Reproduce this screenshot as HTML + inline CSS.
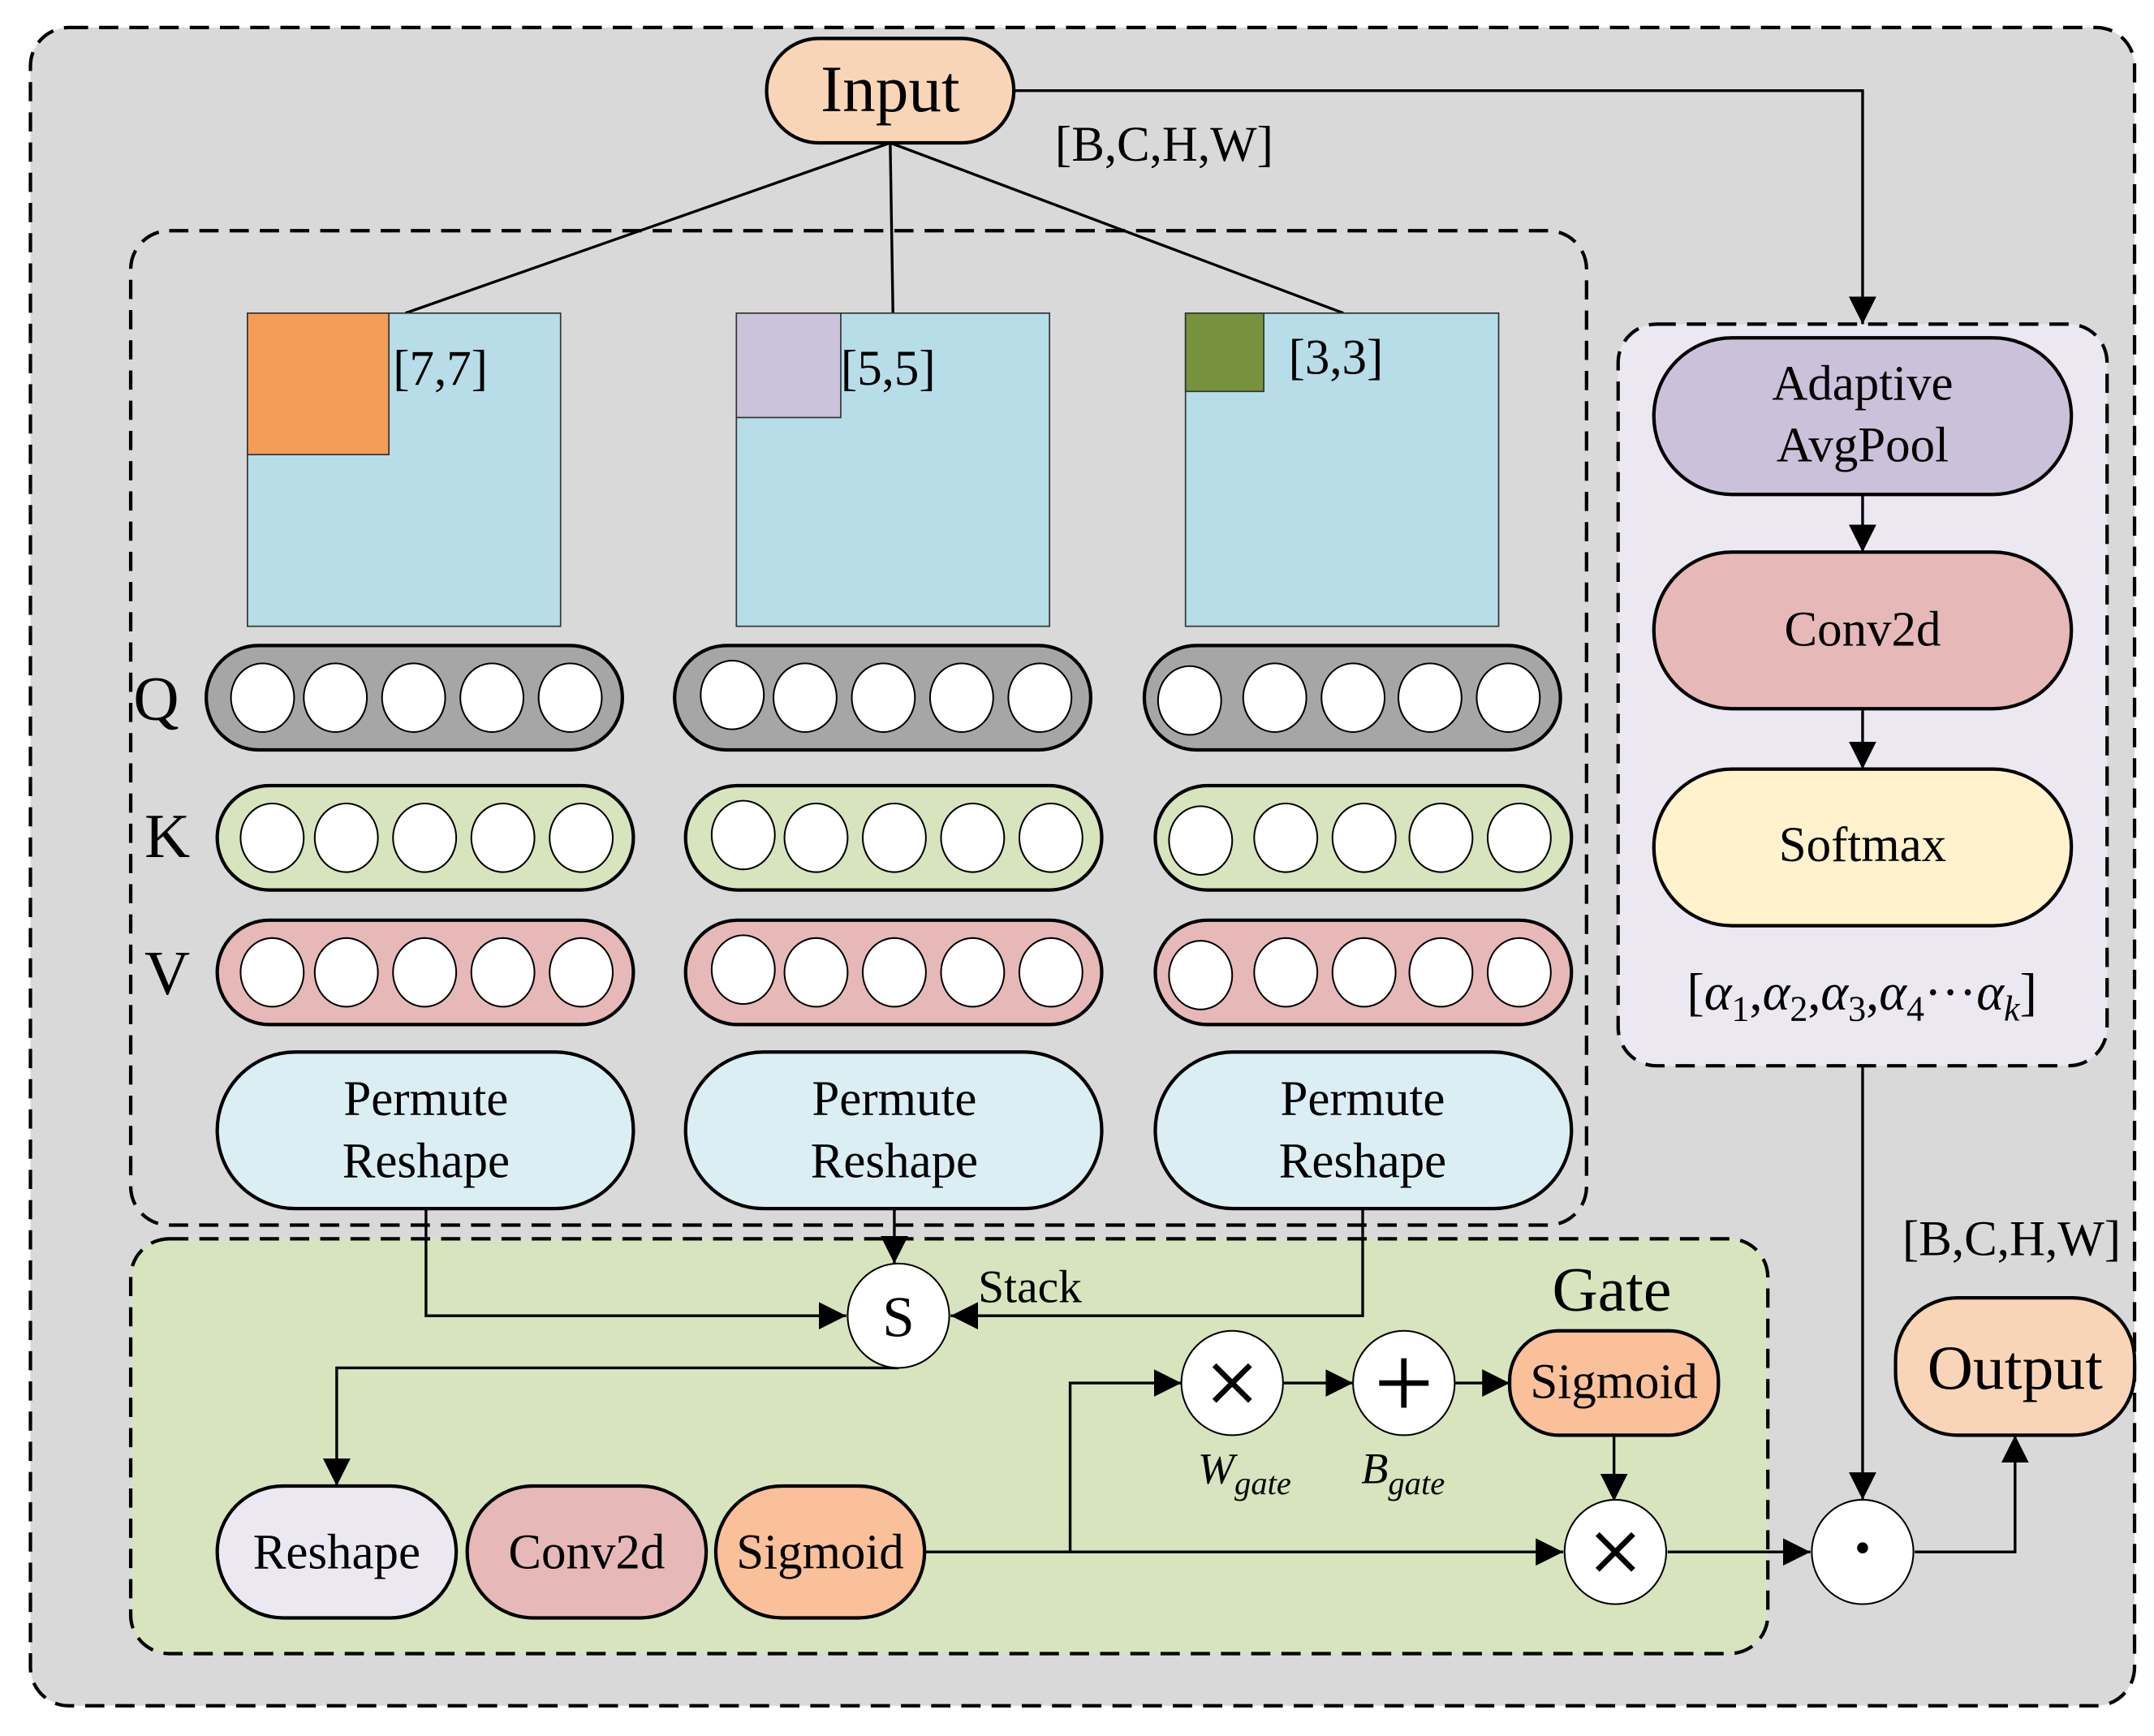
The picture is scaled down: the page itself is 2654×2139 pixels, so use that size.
<!DOCTYPE html>
<html><head><meta charset="utf-8"><style>html,body{margin:0;padding:0;background:#fff}svg{display:block}</style></head><body>
<svg xmlns="http://www.w3.org/2000/svg" width="2654" height="2139" viewBox="0 0 1568 1264" font-family="'Liberation Serif',serif">
<defs><marker id="b" viewBox="0 0 10 10" refX="10" refY="5" markerWidth="20" markerHeight="20" markerUnits="userSpaceOnUse" orient="auto"><path d="M0,0L10,5L0,10z" fill="#000"/></marker></defs>
<rect x="0" y="0" width="1568" height="1264" fill="#fff"/>
<rect x="22" y="20" width="1532" height="1222" rx="28" fill="#d9d9d9" stroke="#000" stroke-width="2.5" stroke-dasharray="14,8"/>
<rect x="95" y="168" width="1060" height="724" rx="28" fill="none" stroke="#000" stroke-width="2.5" stroke-dasharray="14,8"/>
<rect x="95" y="902" width="1192" height="302" rx="28" fill="#d7e4bd" stroke="#000" stroke-width="2.5" stroke-dasharray="14,8"/>
<rect x="1178" y="236" width="356" height="540" rx="28" fill="#ebe8f1" stroke="#000" stroke-width="2.5" stroke-dasharray="14,8"/>
<g stroke="#000" stroke-width="2" fill="none">
<line x1="648" y1="104" x2="295" y2="228"/><line x1="648" y1="104" x2="650" y2="228"/><line x1="648" y1="104" x2="978" y2="228"/>
<polyline points="738,66 1356,66 1356,236" marker-end="url(#b)"/>
<line x1="1356" y1="360" x2="1356" y2="402" marker-end="url(#b)"/>
<line x1="1356" y1="516" x2="1356" y2="560" marker-end="url(#b)"/>
<line x1="1356" y1="776" x2="1356" y2="1092" marker-end="url(#b)"/>
<polyline points="1394,1130 1467,1130 1467,1045" marker-end="url(#b)"/>
<polyline points="310,880 310,958 616,958" marker-end="url(#b)"/>
<line x1="651" y1="880" x2="651" y2="920" marker-end="url(#b)"/>
<polyline points="992,880 992,958 692,958" marker-end="url(#b)"/>
<polyline points="654,996 245,996 245,1082" marker-end="url(#b)"/>
<line x1="673" y1="1130" x2="1138" y2="1130" marker-end="url(#b)"/>
<polyline points="779,1130 779,1007 860,1007" marker-end="url(#b)"/>
<line x1="934" y1="1007" x2="985" y2="1007" marker-end="url(#b)"/>
<line x1="1059" y1="1007" x2="1099" y2="1007" marker-end="url(#b)"/>
<line x1="1175" y1="1045" x2="1175" y2="1093" marker-end="url(#b)"/>
<line x1="1214" y1="1130" x2="1318" y2="1130" marker-end="url(#b)"/>
</g>
<rect x="558" y="28" width="180" height="76" rx="38" fill="#f9d5b8" stroke="#000" stroke-width="2.5"/>
<text x="648" y="81" font-size="48" text-anchor="middle">Input</text>
<text x="768" y="117" font-size="36">[B,C,H,W]</text>
<g stroke="#333" stroke-width="1">
<rect x="180" y="228" width="228" height="228" fill="#b7dde8"/><rect x="180" y="228" width="103" height="103" fill="#f49d59"/>
<rect x="536" y="228" width="228" height="228" fill="#b7dde8"/><rect x="536" y="228" width="76" height="76" fill="#cbc3dc"/>
<rect x="863" y="228" width="228" height="228" fill="#b7dde8"/><rect x="863" y="228" width="57" height="57" fill="#76923c"/>
</g>
<g font-size="36"><text x="286" y="280">[7,7]</text><text x="612" y="280">[5,5]</text><text x="938" y="272">[3,3]</text></g>
<g font-size="46"><text x="97" y="524">Q</text><text x="105" y="624">K</text><text x="105" y="724">V</text></g>
<g stroke="#000" stroke-width="2.5">
<rect x="150" y="470" width="303" height="76" rx="38" fill="#a6a6a6"/><rect x="491" y="470" width="303" height="76" rx="38" fill="#a6a6a6"/><rect x="833" y="470" width="303" height="76" rx="38" fill="#a6a6a6"/>
<rect x="158" y="572" width="303" height="76" rx="38" fill="#d7e4bd"/><rect x="499" y="572" width="303" height="76" rx="38" fill="#d7e4bd"/><rect x="841" y="572" width="303" height="76" rx="38" fill="#d7e4bd"/>
<rect x="158" y="670" width="303" height="76" rx="38" fill="#e6b9b8"/><rect x="499" y="670" width="303" height="76" rx="38" fill="#e6b9b8"/><rect x="841" y="670" width="303" height="76" rx="38" fill="#e6b9b8"/>
<rect x="158" y="766" width="303" height="114" rx="57" fill="#daeef3"/><rect x="499" y="766" width="303" height="114" rx="57" fill="#daeef3"/><rect x="841" y="766" width="303" height="114" rx="57" fill="#daeef3"/>
<rect x="1204" y="246" width="304" height="114" rx="57" fill="#ccc1da"/><rect x="1204" y="402" width="304" height="114" rx="57" fill="#e6b9b8"/><rect x="1204" y="560" width="304" height="114" rx="57" fill="#fff2cc"/>
<rect x="1380" y="945" width="174" height="100" rx="45" fill="#f9d5b8"/>
<rect x="158" y="1082" width="174" height="96" rx="48" fill="#ebe8f1"/><rect x="340" y="1082" width="174" height="96" rx="48" fill="#e6b9b8"/><rect x="521" y="1082" width="152" height="96" rx="48" fill="#f9c09a"/>
<rect x="1099" y="969" width="152" height="76" rx="36" fill="#f9c09a"/>
</g>
<g fill="#fff" stroke="#000" stroke-width="1.2">
<ellipse cx="191" cy="508" rx="23" ry="25"/><ellipse cx="244" cy="508" rx="23" ry="25"/><ellipse cx="301" cy="508" rx="23" ry="25"/><ellipse cx="358" cy="508" rx="23" ry="25"/><ellipse cx="415" cy="508" rx="23" ry="25"/>
<ellipse cx="533" cy="506" rx="23" ry="25"/><ellipse cx="586" cy="508" rx="23" ry="25"/><ellipse cx="643" cy="508" rx="23" ry="25"/><ellipse cx="700" cy="508" rx="23" ry="25"/><ellipse cx="757" cy="508" rx="23" ry="25"/>
<ellipse cx="866" cy="510" rx="23" ry="25"/><ellipse cx="928" cy="508" rx="23" ry="25"/><ellipse cx="985" cy="508" rx="23" ry="25"/><ellipse cx="1041" cy="508" rx="23" ry="25"/><ellipse cx="1098" cy="508" rx="23" ry="25"/>
<ellipse cx="198" cy="610" rx="23" ry="25"/><ellipse cx="252" cy="610" rx="23" ry="25"/><ellipse cx="309" cy="610" rx="23" ry="25"/><ellipse cx="366" cy="610" rx="23" ry="25"/><ellipse cx="423" cy="610" rx="23" ry="25"/>
<ellipse cx="541" cy="608" rx="23" ry="25"/><ellipse cx="594" cy="610" rx="23" ry="25"/><ellipse cx="651" cy="610" rx="23" ry="25"/><ellipse cx="708" cy="610" rx="23" ry="25"/><ellipse cx="765" cy="610" rx="23" ry="25"/>
<ellipse cx="874" cy="612" rx="23" ry="25"/><ellipse cx="936" cy="610" rx="23" ry="25"/><ellipse cx="993" cy="610" rx="23" ry="25"/><ellipse cx="1049" cy="610" rx="23" ry="25"/><ellipse cx="1106" cy="610" rx="23" ry="25"/>
<ellipse cx="198" cy="708" rx="23" ry="25"/><ellipse cx="252" cy="708" rx="23" ry="25"/><ellipse cx="309" cy="708" rx="23" ry="25"/><ellipse cx="366" cy="708" rx="23" ry="25"/><ellipse cx="423" cy="708" rx="23" ry="25"/>
<ellipse cx="541" cy="706" rx="23" ry="25"/><ellipse cx="594" cy="708" rx="23" ry="25"/><ellipse cx="651" cy="708" rx="23" ry="25"/><ellipse cx="708" cy="708" rx="23" ry="25"/><ellipse cx="765" cy="708" rx="23" ry="25"/>
<ellipse cx="874" cy="710" rx="23" ry="25"/><ellipse cx="936" cy="708" rx="23" ry="25"/><ellipse cx="993" cy="708" rx="23" ry="25"/><ellipse cx="1049" cy="708" rx="23" ry="25"/><ellipse cx="1106" cy="708" rx="23" ry="25"/>
<ellipse cx="654" cy="958" rx="37" ry="38"/><ellipse cx="897" cy="1007" rx="37" ry="38"/><ellipse cx="1022" cy="1007" rx="37" ry="38"/><ellipse cx="1176" cy="1130" rx="37" ry="38"/><ellipse cx="1356" cy="1130" rx="37" ry="38"/>
</g>
<g stroke="#000" stroke-width="4"><path d="M884,994L910,1020M910,994L884,1020"/><path d="M1004,1007H1040M1022,989V1025"/><path d="M1163,1117L1189,1143M1189,1117L1163,1143"/></g>
<circle cx="1356" cy="1127" r="4" fill="#000"/>
<g font-size="36" text-anchor="middle">
<text x="310" y="812">Permute</text><text x="310" y="857">Reshape</text>
<text x="651" y="812">Permute</text><text x="651" y="857">Reshape</text>
<text x="992" y="812">Permute</text><text x="992" y="857">Reshape</text>
<text x="1356" y="291">Adaptive</text><text x="1356" y="336">AvgPool</text>
<text x="1356" y="470">Conv2d</text><text x="1356" y="627">Softmax</text>
<text x="245" y="1142">Reshape</text><text x="427" y="1142">Conv2d</text><text x="597" y="1142">Sigmoid</text>
<text x="1175" y="1018">Sigmoid</text>
<text x="654" y="973" font-size="42">S</text>
</g>
<text x="712" y="948" font-size="34">Stack</text>
<text x="1130" y="954" font-size="46">Gate</text>
<text x="1467" y="1011" font-size="46" text-anchor="middle">Output</text>
<text x="1385" y="914" font-size="36">[B,C,H,W]</text>
<text x="1228" y="735" font-size="38">[<tspan font-style="italic">α</tspan><tspan font-size="26" dy="8">1</tspan><tspan dy="-8">,</tspan><tspan font-style="italic">α</tspan><tspan font-size="26" dy="8">2</tspan><tspan dy="-8">,</tspan><tspan font-style="italic">α</tspan><tspan font-size="26" dy="8">3</tspan><tspan dy="-8">,</tspan><tspan font-style="italic">α</tspan><tspan font-size="26" dy="8">4</tspan><tspan dy="-8">···</tspan><tspan font-style="italic">α</tspan><tspan font-size="26" font-style="italic" dy="8">k</tspan><tspan dy="-8">]</tspan></text>
<text x="872" y="1080" font-size="32" font-style="italic">W<tspan font-size="24" dy="8">gate</tspan></text>
<text x="991" y="1080" font-size="32" font-style="italic">B<tspan font-size="24" dy="8">gate</tspan></text>
</svg>
</body></html>
